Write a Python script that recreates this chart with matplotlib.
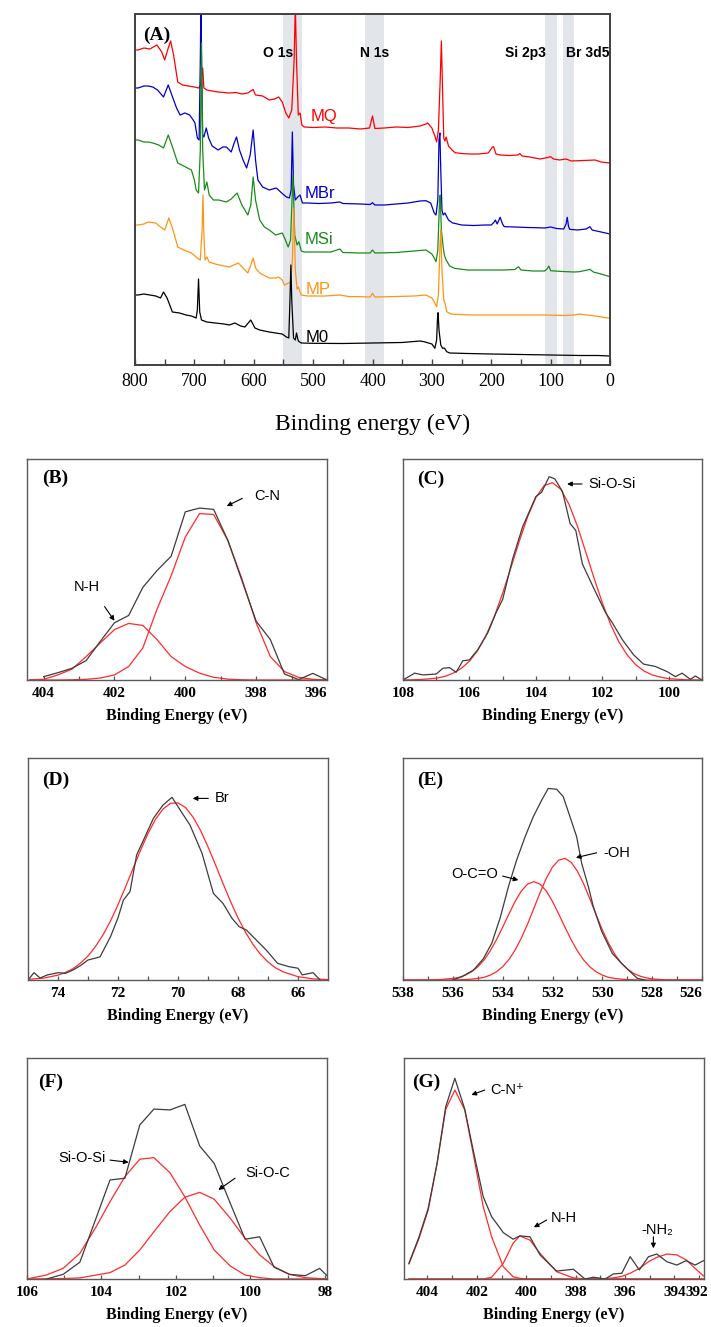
import matplotlib
matplotlib.use("Agg")
import matplotlib.pyplot as plt

plt.rcParams['font.family'] = ['Liberation Sans', 'DejaVu Sans']

SERIF = 'Liberation Serif'
SANS = ['Liberation Sans', 'DejaVu Sans']
W, H = 711, 1327

# ---------------- (A) survey spectra, stacked counts ----------------
mq_ev = [800, 795, 785, 775, 763, 755, 750, 744, 740, 735, 728, 720, 710, 700, 693, 690, 686, 684, 679, 670,
         660, 650, 641, 630, 620, 610, 601, 597, 585, 574, 565, 558, 552, 546, 541, 536, 532, 530, 528, 525,
         522, 519, 515, 500, 480, 460, 440, 420, 405, 400, 396, 380, 360, 340, 320, 310, 307, 300, 295, 292,
         289, 286, 284, 282, 280, 278, 276, 272, 266, 261, 250, 235, 222, 205, 198, 196, 192, 185, 170, 155,
         152, 148, 135, 118, 105, 100, 95, 85, 74, 65, 45, 25, 15, 0]
mq_cts = [315, 315, 317, 316, 320, 313, 305, 317, 324, 310, 283, 280, 279, 278, 277, 279, 297, 277, 275, 274,
          273, 272.5, 272, 272.5, 271, 272, 275.5, 270, 269, 265, 266, 268, 263, 252, 247, 255, 305, 360, 305, 250,
          252, 240, 238, 237.5, 238, 237, 237, 236, 237, 249, 236.5, 237, 238, 237.5, 239, 241, 242, 237, 229, 223,
          235, 285, 324, 275, 227, 224, 228, 219, 215, 212.3, 211.5, 211, 211, 212, 218, 218.3, 211, 210, 209.5, 210,
          211.5, 209, 208, 206, 207.5, 208.3, 206, 205, 206, 204, 204.5, 205, 203, 202]

mbr_ev = [800, 795, 785, 778, 770, 762, 752, 744, 738, 730, 724, 716, 708, 702, 699, 695, 692, 690, 689, 688,
          686, 684, 680, 676, 670, 660, 652, 646, 638, 633, 629, 624, 618, 612, 606, 601, 597, 593, 585, 574,
          562, 553, 545, 540, 537, 535, 533, 530, 526, 522, 518, 510, 490, 470, 455, 450, 420, 404, 400, 396,
          380, 360, 340, 320, 310, 302, 296, 293, 290, 288, 286.5, 285, 283, 281, 278, 272, 265, 262, 250, 230,
          210, 200, 195, 193, 190, 185, 181, 178, 160, 140, 124, 110, 100, 90, 78, 74, 72, 70, 68, 55,
          40, 34, 30, 15, 0]
mbr_cts = [277, 277, 279, 279, 278, 275, 268, 280, 270, 257, 250, 252, 250, 245, 242, 227, 225, 305, 360, 305,
           230, 228, 237, 227, 219, 215, 218, 218, 213, 222, 228, 215, 205, 197, 210, 235, 205, 185, 178, 175,
           177, 172, 168, 167, 175, 233, 180, 165, 168, 170, 162, 162, 161.5, 162, 163, 161.5, 161, 160.5, 162.3, 160,
           160, 161, 162, 164, 164.3, 162, 152, 150, 165, 225, 232, 195, 155, 150, 152, 145, 142, 141.7, 140, 139.5,
           140, 140, 143, 145, 141, 147.7, 141, 138.3, 138, 137.5, 137.3, 137, 138, 136.5, 136, 141, 147.7, 139, 135.7, 135,
           136, 138.3, 135, 133, 131]

msi_ev = [800, 795, 785, 778, 770, 760, 752, 744, 738, 728, 718, 705, 700, 697, 693, 690, 688, 686, 683, 679,
          675, 668, 659, 646, 638, 628, 620, 610, 605, 601, 597, 590, 582, 574, 563, 552, 548, 542, 538, 534,
          531, 527, 524, 520, 515, 500, 470, 455, 450, 420, 404, 400, 396, 360, 330, 310, 300, 296, 293, 290,
          287, 286, 284, 281, 279, 276, 270, 262, 240, 210, 180, 160, 154, 150, 130, 110, 106, 103, 100, 80,
          60, 52, 38, 34, 28, 15, 0]
msi_cts = [225, 225, 223, 223, 222, 220, 217, 230, 220, 202, 199, 195, 185, 175, 172, 215, 322, 215, 175, 183,
           170, 165, 165, 163, 166, 172, 160, 150, 160, 188, 165, 145, 138, 135, 130, 132, 127, 118, 125, 190,
           130, 120, 123.3, 114, 113, 113, 113, 116, 112.5, 112, 112, 115, 112, 112.5, 114, 115, 111, 107, 103.3, 115,
           165, 170, 135, 118.3, 110, 105, 99, 96.7, 95, 95, 95, 95.5, 98.3, 95, 94, 94, 96, 99, 94.3, 93.5,
           93, 93.3, 95, 95.7, 93, 91, 88.3]

mp_ev = [800, 795, 785, 778, 765, 757, 750, 743, 737, 728, 718, 705, 695, 690, 687, 685.5, 684, 682, 679, 675,
         665, 650, 641, 626, 618, 610, 605, 601, 597, 590, 574, 563, 558, 552, 548, 538, 535, 532.5, 530, 527,
         525, 520, 510, 480, 455, 440, 420, 404, 400, 396, 360, 330, 310, 300, 295, 292, 289, 286, 285, 283,
         280, 278, 275, 268, 262, 230, 190, 150, 110, 80, 60, 52, 40, 30, 15, 0]
mp_cts = [140, 140, 141, 143, 142, 138, 135, 147, 137, 118, 115, 112, 107, 105, 135, 170, 130, 105, 108, 103,
          101, 99, 98, 102, 97, 92, 100, 107, 97, 92, 87, 87, 88, 85, 80, 83, 105, 157, 95, 76,
          78, 70, 69, 69, 70, 68.5, 68.3, 68, 71.7, 68, 68.5, 69, 70, 67, 62, 58.3, 70, 125, 135, 95,
          65, 62, 53.3, 51, 50.7, 50, 50, 50, 50, 49.5, 50, 51, 50, 49.5, 48, 46.7]

m0_ev = [800, 795, 785, 775, 765, 757, 752, 746, 737, 725, 714, 705, 697, 695, 693, 691, 688, 679, 665, 650,
         641, 632, 622, 615, 605, 598, 590, 574, 563, 552, 545, 541, 539, 537.5, 536, 533, 530, 528, 525, 520,
         500, 450, 400, 350, 320, 313, 300, 295, 292, 290.5, 289.5, 288, 285, 282, 279, 275, 270, 240, 200, 150,
         100, 50, 20, 0]
m0_cts = [70, 70, 71, 70, 69, 67, 73, 67, 53, 52, 50, 49, 47, 55, 86, 53, 45, 43, 42, 41,
          40, 42, 39, 38, 45, 37, 35, 33, 32, 31, 28, 27, 65, 100, 65, 27, 25, 32, 24, 22,
          21.7, 21.5, 22, 22.5, 24, 23.3, 21, 16.7, 25, 47, 52.3, 35, 20, 16.7, 17, 13.3, 12, 11.5, 11, 10.5,
          10, 9.5, 9.5, 9]

survey_names = ['MQ', 'MBr', 'MSi', 'MP', 'M0']
survey_colors = ['#ff0000', '#0000c8', '#1a8c1a', '#ff9414', '#000000']
survey_label_pos = [(505, 248), (514, 172), (515, 126), (513, 75), (512, 27)]
band_ranges = [(519, 550), (381, 412), (90, 109), (60, 79)]
band_names = ['O 1s', 'N 1s', 'Si 2p3', 'Br 3d5']
band_name_x = [559, 396, 143, 37]

# ---------------- (B) N 1s ----------------
b_ev = [404.0, 403.6, 403.2, 402.8, 402.4, 402.0, 401.6, 401.2, 400.8, 400.4, 400.0,
        399.6, 399.2, 398.8, 398.4, 398.0, 397.6, 397.2, 396.8, 396.4, 396.0]
b_obs = [1.5, 3.3, 5.3, 8.8, 17.5, 25.9, 29.2, 41.9, 49.5, 56.0, 76.1,
         77.8, 77.2, 63.2, 44.9, 26.6, 18.3, 2.7, 0.2, 3.0, 0.0]
b_fit_ev = [404.4] + b_ev
b_cn = [0, 0, 0, 0.1, 0.3, 0.9, 2.3, 6.1, 14.5, 32.0, 47.2, 64.7,
        75.3, 74.9, 63.2, 45.7, 25.9, 10.6, 3.8, 1.2, 0.3, 0]
b_nh = [0.1, 0.3, 2.3, 4.9, 10.6, 16.8, 22.8, 25.6, 24.7, 18.3, 10.6, 6.1,
        3.1, 1.2, 0.4, 0.1, 0, 0, 0, 0, 0, 0]

# ---------------- (C) Si 2p ----------------
c_ev = [108.0, 107.65, 107.4, 107.0, 106.8, 106.6, 106.4, 106.2, 106.0, 105.75, 105.45, 105.2,
        105.0, 104.7, 104.4, 104.0, 103.83, 103.6, 103.43, 103.2, 102.97, 102.8, 102.6, 102.27,
        101.9, 101.7, 101.4, 101.06, 100.76, 100.4, 100.05, 99.8, 99.6, 99.35, 99.2, 99.0]
c_obs = [0, 3.1, 2.3, 2.7, 5.3, 5.6, 3.5, 8.7, 9.1, 13.7, 21.3, 30.4,
         36.5, 54.8, 69.3, 83.0, 84.9, 92.0, 91.0, 85.3, 70.8, 67.7, 52.5, 41.9,
         30.4, 25.9, 18.3, 11.4, 7.2, 6.1, 3.8, 1.5, 3.1, 0.3, 1.8, 0]
c_fit_ev = [108.0, 107.5, 107.0, 106.75, 106.5, 106.25, 106.0, 105.75, 105.5, 105.25, 105.0,
            104.75, 104.5, 104.25, 104.0, 103.75, 103.5, 103.25, 103.0, 102.75, 102.5, 102.25,
            102.0, 101.75, 101.5, 101.25, 101.0, 100.75, 100.5, 100.25, 100.0, 99.5, 99.0]
c_sios = [0.0, 0.2, 0.8, 1.6, 3.0, 5.2, 8.5, 13.4, 20.2, 28.8, 39.3,
          50.9, 62.8, 73.8, 82.6, 88.0, 89.3, 86.3, 79.4, 69.6, 58.0, 46.1,
          34.9, 25.1, 17.2, 11.3, 7.0, 4.1, 2.3, 1.3, 0.6, 0.1, 0.0]

# ---------------- (D) Br 3d ----------------
d_ev = [75.0, 74.8, 74.6, 74.35, 74.0, 73.75, 73.5, 73.25, 73.0, 72.6, 72.25, 72.0,
        71.82, 71.6, 71.38, 71.1, 70.82, 70.5, 70.2, 69.93, 69.6, 69.2, 68.82, 68.5,
        68.2, 67.96, 67.72, 67.5, 67.06, 66.68, 66.3, 66.0, 65.86, 65.5, 65.26]
d_obs = [0, 3.3, 0.9, 2.3, 3.3, 3.0, 4.5, 6.5, 9.0, 10.4, 19.5, 28.0,
         36.0, 39.8, 56.3, 64.5, 72.8, 78.8, 82.3, 76.6, 69.8, 57.1, 39.0, 34.5,
         27.8, 24.0, 22.5, 19.5, 13.5, 7.5, 6.0, 5.3, 2.3, 3.3, 0]
d_fit_ev = [75.0, 74.5, 74.0, 73.75, 73.5, 73.25, 73.0, 72.75, 72.5, 72.25, 72.0, 71.75,
            71.5, 71.25, 71.0, 70.75, 70.5, 70.25, 70.0, 69.75, 69.5, 69.25, 69.0, 68.75,
            68.5, 68.25, 68.0, 67.75, 67.5, 67.25, 67.0, 66.75, 66.5, 66.0, 65.5, 65.0]
d_br = [0.3, 0.8, 2.2, 3.4, 5.1, 7.6, 10.8, 15.1, 20.3, 26.6, 33.9, 41.9,
        50.2, 58.4, 66.0, 72.4, 77.0, 79.6, 79.8, 77.7, 73.4, 67.4, 60.0, 51.9,
        43.5, 35.4, 28.0, 21.5, 16.0, 11.6, 8.1, 5.5, 3.7, 1.5, 0.5, 0.2]

# ---------------- (E) O 1s ----------------
e_ev = [536.0, 535.63, 535.17, 534.78, 534.44, 534.1, 533.77, 533.44, 533.1, 532.77, 532.43, 532.17,
        531.83, 531.57, 531.3, 531.03, 530.83, 530.56, 530.36, 530.03, 529.6, 529.23, 528.86, 528.6, 528.3]
e_obs = [0, 1.5, 4.5, 9.5, 16.5, 28.0, 42.0, 54.0, 64.5, 73.6, 81.1, 86.3,
         85.9, 82.6, 73.6, 64.5, 52.6, 42.0, 33.0, 22.0, 12.0, 7.5, 3.5, 0.8, 0]
e_fit_ev = [538.0, 537.0, 536.5, 536.0, 535.75, 535.5, 535.25, 535.0, 534.75, 534.5, 534.25, 534.0, 533.75,
            533.5, 533.25, 533.0, 532.75, 532.5, 532.25, 532.0, 531.75, 531.5, 531.25, 531.0, 530.75,
            530.5, 530.25, 530.0, 529.75, 529.5, 529.25, 529.0, 528.75, 528.5, 528.25, 528.0, 527.5, 527.0, 526.0]
e_oco = [0, 0, 0.2, 0.7, 1.2, 2.2, 3.7, 5.9, 9.0, 13.1, 18.1, 23.8, 29.7,
         35.4, 40.1, 43.2, 44.3, 43.2, 40.1, 35.4, 29.7, 23.8, 18.1, 13.1, 9.0,
         5.9, 3.7, 2.2, 1.2, 0.7, 0.4, 0.2, 0.1, 0, 0, 0, 0, 0, 0]
e_oh = [0, 0, 0, 0, 0.1, 0.2, 0.4, 0.7, 1.2, 2.2, 3.7, 6.0, 9.2,
        13.5, 18.9, 25.2, 32.2, 39.3, 45.8, 50.9, 54.0, 54.8, 53.0, 49.0, 43.3,
        36.5, 29.4, 22.6, 16.6, 11.6, 7.8, 5.0, 3.0, 1.8, 1.0, 0.5, 0.1, 0, 0]

# ---------------- (F) Si 2p ----------------
f_ev = [105.48, 105.03, 104.58, 104.18, 103.77, 103.37, 102.97, 102.59, 102.16, 101.76,
        101.36, 100.97, 100.54, 100.14, 99.75, 99.36, 98.95, 98.52, 98.14, 97.94]
f_obs = [0, 2.1, 7.6, 25.9, 44.8, 45.6, 69.7, 76.9, 76.5, 79.0,
         60.2, 52.3, 34.3, 18.0, 19.1, 5.3, 2.1, 1.5, 4.8, 1.5]
f_fit_ev = [106.0, 105.48, 105.03, 104.58, 104.14, 103.77, 103.37, 102.97, 102.59, 102.16,
            101.76, 101.36, 100.97, 100.54, 100.14, 99.75, 99.36, 98.95, 98.52, 97.94]
f_sios = [0, 1.8, 4.8, 11.6, 23.7, 35.0, 46.3, 54.2, 54.9, 48.1,
          37.2, 24.4, 13.1, 5.9, 1.8, 0.6, 0, 0, 0, 0]
f_sioc = [0, 0.1, 0.2, 0.5, 1.8, 2.9, 6.3, 13.1, 21.4, 30.5,
          37.0, 39.2, 36.1, 27.5, 18.4, 10.9, 5.6, 2.1, 0.6, 0]

# ---------------- (G) N 1s ----------------
g_ev = [404.75, 404.34, 403.97, 403.61, 403.26, 402.89, 402.49, 402.15, 401.74, 401.4,
        400.93, 400.53, 400.26, 399.85, 399.44, 398.77, 398.09, 397.62, 397.28, 396.8,
        396.47, 396.13, 395.79, 395.42, 395.05, 394.71, 394.3, 393.9, 393.52, 393.16, 392.82]
g_obs = [7.1, 19.1, 32.0, 52.3, 78.0, 90.8, 76.9, 58.4, 37.2, 28.2,
         21.0, 18.0, 19.5, 19.1, 10.9, 3.6, 4.4, 0, 0.8, 0,
         2.3, 2.6, 10.1, 4.1, 10.1, 11.3, 7.8, 6.3, 8.3, 6.3, 8.3]
g_cn = [6.8, 18.4, 31.2, 52.3, 76.8, 85.5, 76.5, 56.9, 32.7, 19.1,
        5.6, 1.0, 0.3, 0, 0, 0, 0, 0, 0, 0,
        0, 0, 0, 0, 0, 0, 0, 0, 0, 0, 0]
g_nh = [0, 0, 0, 0, 0, 0, 0, 0, 0, 0.8,
        7.1, 16.2, 19.5, 17.6, 11.6, 3.3, 0.5, 0, 0, 0,
        0, 0, 0, 0, 0, 0, 0, 0, 0, 0, 0]
g_nh2 = [0, 0, 0, 0, 0, 0, 0, 0, 0, 0,
         0, 0, 0, 0, 0, 0, 0, 0, 0, 0.2,
         0.5, 1.2, 2.6, 4.8, 7.8, 9.8, 11.3, 10.9, 8.6, 4.8, 1.4]


def place(fig, left, top, right, bottom):
    """Axes from pixel box (left, top, right, bottom)."""
    return fig.add_axes([left / W, 1 - bottom / H, (right - left) / W, (bottom - top) / H])


def arrow(ax, start, end):
    ax.annotate('', xy=end, xytext=start,
                arrowprops=dict(arrowstyle='-|>', color='black', lw=0.8,
                                mutation_scale=7, shrinkA=0, shrinkB=0))


def core_panel(fig, box, xlim, majors, minors, letter, letter_xy, last_right=True):
    ax = place(fig, *box)
    ax.set_xlim(*xlim)
    ax.set_ylim(0, 100)
    ax.set_yticks([])
    ax.set_xticks(majors)
    ax.set_xticklabels([str(m) for m in majors], fontfamily=SERIF, fontweight='bold', fontsize=11)
    ax.set_xticks(minors, minor=True)
    ax.tick_params(axis='x', which='both', direction='in', length=3, width=0.9, pad=5, color='#555555')
    if last_right:
        # keep the end label inside the frame
        ax.get_xticklabels()[-1].set_ha('right')
    for s in ax.spines.values():
        s.set_color('#5a5a5a')
        s.set_linewidth(1.0)
    ax.set_xlabel('Binding Energy (eV)', fontfamily=SERIF, fontweight='bold', fontsize=11.5, labelpad=6)
    ax.text(letter_xy[0], letter_xy[1], letter, transform=ax.transAxes, ha='left', va='top',
            fontfamily=SERIF, fontweight='bold', fontsize=14)
    return ax


def peak_text(ax, x, y, s, ha='left'):
    ax.text(x, y, s, ha=ha, va='center', fontsize=10.5, family=SANS)


fig = plt.figure(figsize=(W / 100, H / 100), dpi=100)

# ---- (A) ----
ax = place(fig, 135, 14, 610, 365)
for lo, hi in band_ranges:
    ax.axvspan(lo, hi, color='#e2e5e9', lw=0, zorder=0)
for ev, cts, col in zip([mq_ev, mbr_ev, msi_ev, mp_ev, m0_ev],
                        [mq_cts, mbr_cts, msi_cts, mp_cts, m0_cts], survey_colors):
    ax.plot(ev, cts, color=col, lw=0.9, zorder=2)
for name, col, (lx, ly) in zip(survey_names, survey_colors, survey_label_pos):
    ax.text(lx, ly, name, color=col, fontsize=12, ha='left', va='center', zorder=3)
for name, nx in zip(band_names, band_name_x):
    ax.text(nx, 312, name, fontsize=10, fontweight='bold', ha='center', va='center', zorder=3)
ax.set_xlim(800, 0)
ax.set_ylim(0, 351)
ax.set_yticks([])
ax.set_xticks(range(800, -1, -100))
ax.set_xticklabels([str(t) for t in range(800, -1, -100)], fontfamily=SERIF, fontsize=13)
ax.set_xticks(range(750, 0, -100), minor=True)
ax.tick_params(axis='x', which='both', direction='in', length=4, width=1.0, pad=6, color='#404040')
for s in ax.spines.values():
    s.set_color('#404040')
    s.set_linewidth(1.4)
ax.set_xlabel('Binding energy (eV)', fontfamily=SERIF, fontsize=17, labelpad=17)
ax.text(0.017, 0.965, '(A)', transform=ax.transAxes, ha='left', va='top',
        fontfamily=SERIF, fontweight='bold', fontsize=14)

BLK, RED, LW = '#3c3c3c', '#ff2a2a', 0.9

# ---- (B) ----
ax = core_panel(fig, (27, 459, 327, 680), (404.47, 396), [404, 402, 400, 398, 396],
                [403, 401, 399, 397], '(B)', (0.05, 0.95))
ax.plot(b_fit_ev, b_nh, color=RED, lw=LW)
ax.plot(b_fit_ev, b_cn, color=RED, lw=LW)
ax.plot(b_ev, b_obs, color=BLK, lw=LW)
peak_text(ax, 398.06, 83.3, 'C-N')
arrow(ax, (398.39, 82.2), (398.83, 78.7))
peak_text(ax, 402.79, 42.2, 'N-H', ha='center')
arrow(ax, (402.28, 33.2), (402.0, 26.8))

# ---- (C) ----
ax = core_panel(fig, (403, 459, 702, 680), (108, 99), [108, 106, 104, 102, 100],
                [107, 105, 103, 101, 99], '(C)', (0.046, 0.945), last_right=False)
ax.plot(c_fit_ev, c_sios, color=RED, lw=LW)
ax.plot(c_ev, c_obs, color=BLK, lw=LW)
peak_text(ax, 102.42, 88.7, 'Si-O-Si')
arrow(ax, (102.61, 88.7), (103.06, 88.7))

# ---- (D) ----
ax = core_panel(fig, (28, 758, 328, 980), (75, 65), [74, 72, 70, 68, 66],
                [73, 71, 69, 67], '(D)', (0.046, 0.94), last_right=False)
ax.plot(d_fit_ev, d_br, color=RED, lw=LW)
ax.plot(d_ev, d_obs, color=BLK, lw=LW)
peak_text(ax, 68.77, 81.8, 'Br')
arrow(ax, (68.99, 81.8), (69.51, 81.8))

# ---- (E) ----
ax = core_panel(fig, (403, 758, 702, 980), (538, 526), [538, 536, 534, 532, 530, 528, 526],
                [537, 535, 533, 531, 529, 527], '(E)', (0.048, 0.94))
ax.plot(e_fit_ev, e_oco, color=RED, lw=LW)
ax.plot(e_fit_ev, e_oh, color=RED, lw=LW)
ax.plot(e_ev, e_obs, color=BLK, lw=LW)
peak_text(ax, 529.96, 57.3, '-OH')
arrow(ax, (530.23, 57.3), (531.06, 55.1))
peak_text(ax, 534.18, 47.7, 'O-C=O', ha='right')
arrow(ax, (534.0, 46.8), (533.37, 45.0))

# ---- (F) ----
ax = core_panel(fig, (27, 1058, 327, 1279), (106, 97.94), [106, 104, 102, 100, 98],
                [105, 103, 101, 99], '(F)', (0.038, 0.93), last_right=False)
ax.plot(f_fit_ev, f_sios, color=RED, lw=LW)
ax.plot(f_fit_ev, f_sioc, color=RED, lw=LW)
ax.plot(f_ev, f_obs, color=BLK, lw=LW)
peak_text(ax, 103.88, 54.9, 'Si-O-Si', ha='right')
arrow(ax, (103.77, 53.8), (103.27, 52.8))
peak_text(ax, 100.14, 47.8, 'Si-O-C')
arrow(ax, (100.41, 45.6), (100.86, 40.3))

# ---- (G) ----
ax = core_panel(fig, (404, 1058, 704, 1279), (404.95, 392.8), [404, 402, 400, 398, 396, 394],
                [403, 401, 399, 397, 395, 393], '(G)', (0.027, 0.93), last_right=False)
ax.plot(g_ev, g_cn, color=RED, lw=LW)
ax.plot(g_ev, g_nh, color=RED, lw=LW)
ax.plot(g_ev, g_nh2, color=RED, lw=LW)
ax.plot(g_ev, g_obs, color=BLK, lw=LW)
# end-of-axis label sits at the frame edge
ax.annotate('392', xy=(1.0, 0), xycoords='axes fraction', xytext=(3, -5), textcoords='offset points',
            ha='right', va='top', fontfamily=SERIF, fontweight='bold', fontsize=11)
peak_text(ax, 401.47, 85.5, 'C-N\u207a')
arrow(ax, (401.68, 85.5), (402.22, 83.3))
peak_text(ax, 399.01, 27.5, 'N-H')
arrow(ax, (399.17, 26.7), (399.69, 23.4))
peak_text(ax, 394.71, 22.2, '-NH\u2082', ha='center')
arrow(ax, (394.85, 19.1), (394.85, 13.9))

fig.savefig('out.png', dpi=100)
